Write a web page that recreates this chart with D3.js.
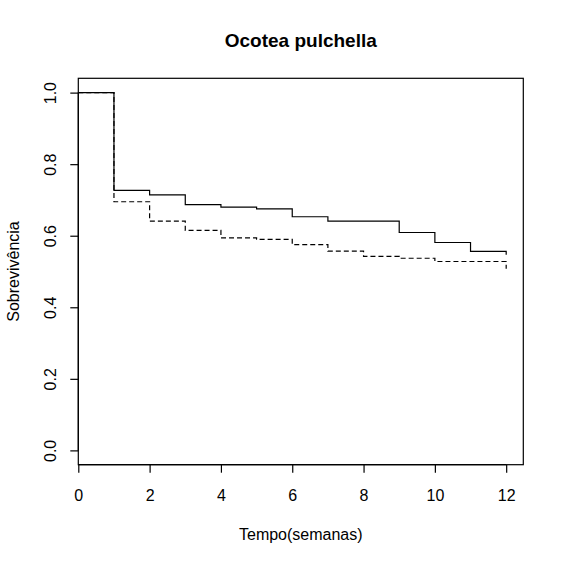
<!DOCTYPE html>
<meta charset="utf-8">
<script src="https://d3js.org/d3.v7.min.js"></script>
<style>
  body { margin: 0; background: #fff; }
  text { font-family: "Liberation Sans", Arial, sans-serif; fill: #000; }
</style>
<div id="my_dataviz"></div>
<script>

// survival estimates (time in weeks)
const times = [0, 1, 2, 3, 4, 5, 6, 7, 8, 9, 10, 11, 12];
const survSolid  = [1.0, 0.727, 0.714, 0.687, 0.680, 0.675, 0.653, 0.641, 0.641, 0.609, 0.581, 0.556, 0.547];
const survDashed = [1.0, 0.695, 0.641, 0.615, 0.594, 0.590, 0.575, 0.557, 0.542, 0.537, 0.528, 0.528, 0.508];
const xTicks = [0, 2, 4, 6, 8, 10, 12];
const yTicks = [0.0, 0.2, 0.4, 0.6, 0.8, 1.0];

const W = 564, H = 563;
const box = {left: 78.3, right: 523.3, top: 78.3, bottom: 464.7};

const svg = d3.select("#my_dataviz")
  .append("svg")
    .attr("width", W)
    .attr("height", H);

svg.append("rect").attr("width", W).attr("height", H).attr("fill", "#fff");

// R's survival plot: x starts at 0, 4% padding on the right; y padded 4% both ends
const x = d3.scaleLinear()
    .domain([0, 12 * 1.04])
    .range([box.left, box.right]);
const y = d3.scaleLinear()
    .domain([-0.04, 1.04])
    .range([box.bottom, box.top]);

// step curve, last point is the drop at the final time
const step = d3.line()
    .curve(d3.curveStepAfter)
    .x(d => x(d[0]))
    .y(d => y(d[1]));

function curveData(vals) {
  const pts = times.map((t, i) => [t, vals[i]]);
  return pts;
}

svg.append("path")
    .datum(curveData(survDashed))
    .attr("fill", "none")
    .attr("stroke", "#000")
    .attr("stroke-width", 1.2)
    .attr("stroke-dasharray", "5,3")
    .attr("d", step);

svg.append("path")
    .datum(curveData(survSolid))
    .attr("fill", "none")
    .attr("stroke", "#000")
    .attr("stroke-width", 1.2)
    .attr("d", step);

// box
svg.append("rect")
    .attr("x", box.left)
    .attr("y", box.top)
    .attr("width", box.right - box.left)
    .attr("height", box.bottom - box.top)
    .attr("fill", "none")
    .attr("stroke", "#000")
    .attr("stroke-width", 1.2);

// x axis
const xAxis = svg.append("g")
    .attr("transform", `translate(0,${box.bottom})`)
    .call(d3.axisBottom(x).tickValues(xTicks).tickSize(8).tickSizeOuter(0).tickPadding(17));
xAxis.select(".domain")
    .attr("d", `M${x(0)},0H${x(12)}`)
    .attr("stroke-width", 1.2);
xAxis.selectAll(".tick line").attr("stroke-width", 1.2);
xAxis.selectAll("text")
    .style("font-size", "16px")
    .style("font-family", "'Liberation Sans', Arial, sans-serif");

// y axis, labels rotated like R default
const yAxis = svg.append("g")
    .attr("transform", `translate(${box.left},0)`)
    .call(d3.axisLeft(y).tickValues(yTicks).tickSize(8).tickSizeOuter(0)
      .tickFormat(d3.format(".1f")));
yAxis.select(".domain")
    .attr("d", `M0,${y(0)}V${y(1)}`)
    .attr("stroke-width", 1.2);
yAxis.selectAll(".tick line").attr("stroke-width", 1.2);
yAxis.selectAll("text")
    .attr("x", null).attr("dy", null)
    .attr("text-anchor", "middle")
    .attr("transform", "translate(-22,0) rotate(-90)")
    .style("font-size", "16px")
    .style("font-family", "'Liberation Sans', Arial, sans-serif");

// titles
svg.append("text")
    .attr("x", (box.left + box.right) / 2)
    .attr("y", 47)
    .attr("text-anchor", "middle")
    .style("font-size", "19px")
    .style("font-weight", "bold")
    .text("Ocotea pulchella");

svg.append("text")
    .attr("x", (box.left + box.right) / 2)
    .attr("y", 540)
    .attr("text-anchor", "middle")
    .style("font-size", "16px")
    .text("Tempo(semanas)");

svg.append("text")
    .attr("transform", `translate(18.5,${(box.top + box.bottom) / 2}) rotate(-90)`)
    .attr("text-anchor", "middle")
    .style("font-size", "16px")
    .text("Sobrevivência");

</script>
